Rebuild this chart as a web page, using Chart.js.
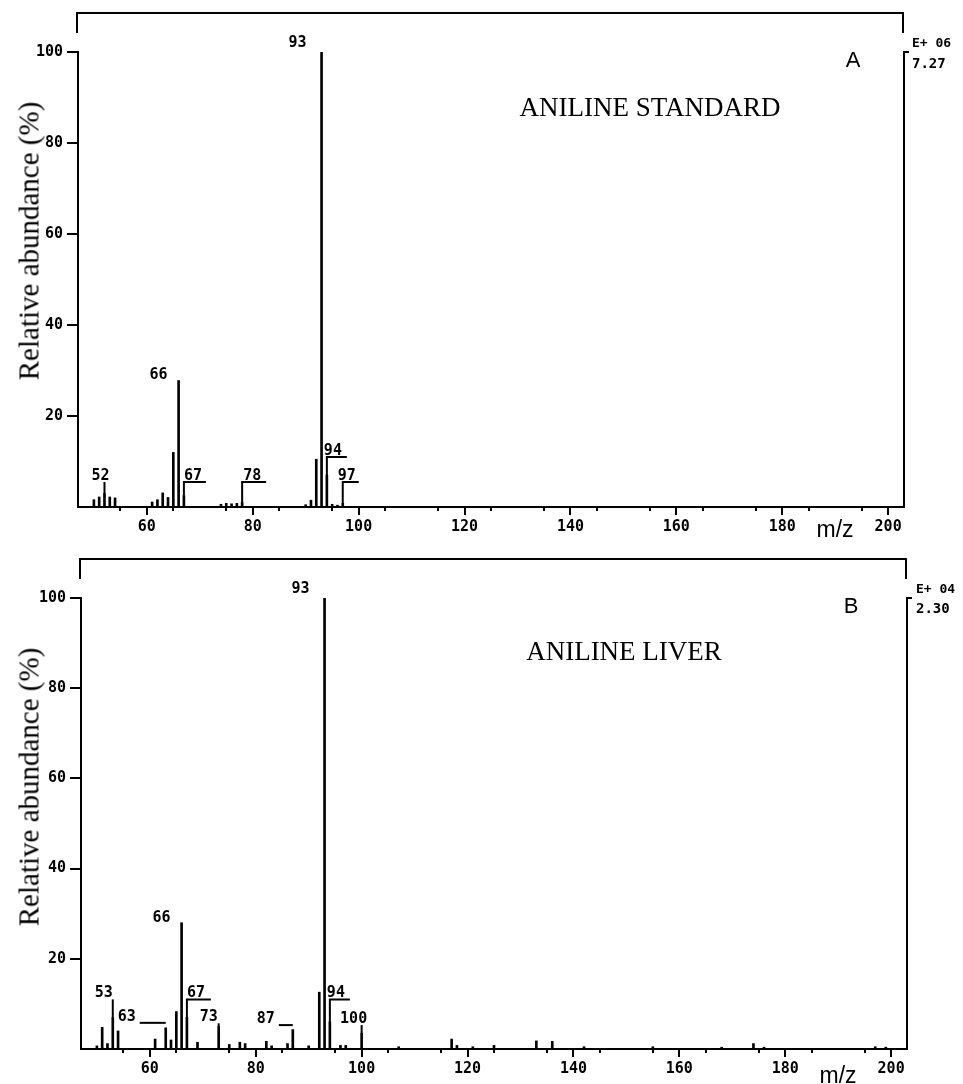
<!DOCTYPE html>
<html>
<head>
<meta charset="utf-8">
<script src="https://cdn.jsdelivr.net/npm/chart.js@4.4.0/dist/chart.umd.min.js"></script>
<style>
html,body{margin:0;padding:0;background:#fff;}
#wrap{position:relative;width:963px;height:1084px;overflow:hidden;background:#fff;}
.panel{position:absolute;left:0;width:963px;height:542px;}
.panel canvas{position:absolute;left:0;top:0;}
.t{position:absolute;white-space:nowrap;color:#000;line-height:1;}
.c{transform:translate(-50%,-50%);}
.l{transform:translate(0,-50%);}
.serif{font-family:"Liberation Serif","DejaVu Serif",serif;}
.mono{font-family:"DejaVu Sans Mono","Liberation Mono",monospace;font-weight:bold;}
.sans{font-family:"Liberation Sans",Arial,sans-serif;}
.ytitle{transform:translate(-50%,-50%) rotate(-90deg);}
</style>
</head>
<body>
<div id="wrap">
  <div class="panel" id="pA" style="top:0px">
    <canvas id="cA" width="963" height="542"></canvas>
    <div class="t serif c" style="left:650px;top:107px;font-size:27px;">ANILINE STANDARD</div>
    <div class="t sans c" style="left:853px;top:60px;font-size:22px;">A</div>
    <div class="t mono l" style="left:912px;top:42px;font-size:13px;">E+ 06</div>
    <div class="t mono l" style="left:912px;top:63px;font-size:14px;">7.27</div>
    <div class="t sans c" style="left:835px;top:529px;font-size:23px;">m/z</div>
    <div class="t serif ytitle" style="left:29px;top:241px;font-size:29px;">Relative abundance (%)</div>
  </div>
  <div class="panel" id="pB" style="top:542px">
    <canvas id="cB" width="963" height="542"></canvas>
    <div class="t serif c" style="left:624px;top:109px;font-size:27px;">ANILINE LIVER</div>
    <div class="t sans c" style="left:851px;top:64px;font-size:22px;">B</div>
    <div class="t mono l" style="left:916px;top:46px;font-size:13px;">E+ 04</div>
    <div class="t mono l" style="left:916px;top:66px;font-size:14px;">2.30</div>
    <div class="t sans c" style="left:838px;top:533px;font-size:23px;">m/z</div>
    <div class="t serif ytitle" style="left:29px;top:245px;font-size:29px;">Relative abundance (%)</div>
  </div>
</div>
<script>
// ---------- DATA ----------
const xTickLabels = [60, 80, 100, 120, 140, 160, 180, 200];
const yTickLabels = [20, 40, 60, 80, 100];

// Panel A : aniline standard
const mzA  = [50, 51, 52, 53, 54, 61, 62, 63, 64, 65, 66, 67, 74, 75, 76, 77, 78, 90, 91, 92, 93, 94, 95, 96, 97];
const intA = [1.6, 2.2, 3.0, 2.2, 2.0, 1.1, 1.6, 3.1, 2.1, 12.0, 27.8, 2.5, 0.6, 0.8, 0.7, 0.8, 1.0, 0.5, 1.5, 10.5, 100, 7.0, 0.6, 0.4, 0.8];
const labeledA = [93, 66, 52, 67, 78, 94, 97];

// Panel B : aniline liver
const mzB  = [50, 51, 52, 53, 54, 61, 63, 64, 65, 66, 67, 69, 73, 75, 77, 78, 82, 83, 86, 87, 90, 92, 93, 94, 96, 97, 100,
              107, 117, 118, 121, 125, 133, 136, 142, 155, 168, 174, 176, 197, 199];
const intB = [0.7, 4.8, 1.2, 7.0, 4.0, 2.2, 4.7, 2.0, 8.3, 28.0, 7.0, 1.5, 5.0, 1.0, 1.5, 1.2, 1.7, 0.7, 1.2, 4.3, 0.7, 12.6, 100, 6.0, 0.8, 0.8, 3.5,
              0.5, 2.2, 0.8, 0.5, 0.8, 1.8, 1.7, 0.5, 0.5, 0.4, 1.2, 0.4, 0.5, 0.4];
const labeledB = [93, 66, 53, 63, 67, 73, 87, 94, 100];

// ---------- LABEL LAYOUT (styling, keyed by m/z) ----------
// al: label above-left of peak; stem: label over a vertical leader;
// br: label on an underline bracket; ll: label left of a horizontal line
const layoutA = {
  93:{k:'al', dx:-24, dy:-9}, 66:{k:'al', dx:-20, dy:-5},
  52:{k:'stem', lv:5.5, dx:-4},
  67:{k:'br', lv:5.5, len:22, dx:0}, 78:{k:'br', lv:5.5, len:24, dx:1},
  94:{k:'br', lv:11, len:20, dx:-3}, 97:{k:'br', lv:5.5, len:16, dx:-5}
};
const layoutB = {
  93:{k:'al', dx:-24, dy:-9}, 66:{k:'al', dx:-20, dy:-5},
  53:{k:'stem', lv:11, dx:-9}, 73:{k:'stem', lv:5.7, dx:-10}, 100:{k:'stem', lv:5.3, dx:-8},
  63:{k:'ll', lv:5.8, len:26}, 87:{k:'ll', lv:5.3, len:14},
  67:{k:'br', lv:11, len:24, dx:0}, 94:{k:'br', lv:11, len:20, dx:-3}
};

const MONO = '"DejaVu Sans Mono","Liberation Mono",monospace';

const annotPlugin = {
  id: 'annot',
  afterDatasetsDraw(chart, args, o) {
    const ctx = chart.ctx, ca = chart.chartArea, x = chart.scales.x, y = chart.scales.y;
    ctx.save();
    ctx.strokeStyle = '#000'; ctx.fillStyle = '#000'; ctx.lineWidth = 2;
    // top bracket frame
    ctx.beginPath();
    ctx.moveTo(ca.left - 1, ca.top - 19);
    ctx.lineTo(ca.left - 1, ca.top - 39);
    ctx.lineTo(ca.right - 1, ca.top - 39);
    ctx.lineTo(ca.right - 1, ca.top - 19);
    ctx.stroke();
    ctx.font = 'bold 15px ' + MONO;
    o.labels.forEach(m => {
      const v = o.iv[o.mz.indexOf(m)];
      const s = o.layout[m];
      const px = x.getPixelForValue(m), top = y.getPixelForValue(v);
      if (s.k === 'al') {
        ctx.textAlign = 'center'; ctx.textBaseline = 'middle';
        ctx.fillText(String(m), px + s.dx, top + s.dy);
        return;
      }
      const ly = y.getPixelForValue(s.lv);
      ctx.beginPath();
      if (s.k === 'stem' || s.k === 'br') { ctx.moveTo(px, ly); ctx.lineTo(px, top); }
      if (s.k === 'br') { ctx.moveTo(px - 1, ly); ctx.lineTo(px + s.len, ly); }
      if (s.k === 'll') { ctx.moveTo(px - s.len, ly); ctx.lineTo(px, ly); }
      ctx.stroke();
      ctx.textBaseline = 'alphabetic';
      if (s.k === 'stem') { ctx.textAlign = 'center'; ctx.fillText(String(m), px + s.dx, ly - 2); }
      if (s.k === 'br')   { ctx.textAlign = 'left';   ctx.fillText(String(m), px + s.dx, ly - 2); }
      if (s.k === 'll')   { ctx.textAlign = 'right';  ctx.fillText(String(m), px - s.len - 4, ly - 2); }
    });
    ctx.restore();
  }
};

function makeChart(id, mz, iv, labels, layout, g) {
  const tickFont = {family: MONO, weight: 'bold', size: 15};
  return new Chart(document.getElementById(id), {
    type: 'bar',
    data: {datasets: [{
      data: mz.map((m, i) => ({x: m, y: iv[i]})),
      backgroundColor: '#000', borderWidth: 0, barThickness: 2
    }]},
    options: {
      responsive: false, animation: false, events: [],
      layout: {padding: {left: 0, top: g.top, right: 963 - g.right, bottom: 0}},
      plugins: {
        legend: {display: false}, tooltip: {enabled: false},
        annot: {mz: mz, iv: iv, labels: labels, layout: layout}
      },
      scales: {
        x: {
          type: 'linear', position: 'bottom', min: 47, max: 203, offset: false, weight: 1,
          afterFit: s => { s.height = 542 - g.bottom; },
          border: {display: true, color: '#000', width: 2},
          grid: {drawOnChartArea: false, drawTicks: true, tickLength: 8, color: '#000', lineWidth: 2, offset: false},
          ticks: {stepSize: 20, includeBounds: false, autoSkip: false, maxRotation: 0, padding: 3,
                  color: '#000', font: tickFont,
                  callback: v => xTickLabels.includes(v) ? String(v) : ''}
        },
        x2: {
          type: 'linear', position: 'bottom', min: 47, max: 203, offset: false, weight: 0,
          afterFit: s => { s.height = 0; },
          border: {display: false},
          grid: {drawOnChartArea: false, drawTicks: true, tickLength: 4, color: '#000', lineWidth: 2},
          ticks: {stepSize: 10, includeBounds: false, display: false, autoSkip: false}
        },
        y: {
          type: 'linear', position: 'left', min: 0, max: 100,
          afterFit: s => { s.width = g.left; },
          border: {display: true, color: '#000', width: 2},
          grid: {drawOnChartArea: false, drawTicks: true, tickLength: 11, lineWidth: 2,
                 color: '#000', tickColor: c => (c.tick && c.tick.value === 0) ? 'rgba(0,0,0,0)' : '#000'},
          ticks: {stepSize: 20, padding: 4, color: '#000', font: tickFont,
                  callback: v => yTickLabels.includes(v) ? String(v) : ''}
        },
        y2: {
          type: 'linear', position: 'right', min: 0, max: 100,
          afterFit: s => { s.width = 0; },
          border: {display: true, color: '#000', width: 2},
          grid: {drawOnChartArea: false, drawTicks: true, tickLength: 5, lineWidth: 2,
                 color: '#000', tickColor: c => (c.tick && c.tick.value === 100) ? '#000' : 'rgba(0,0,0,0)'},
          ticks: {stepSize: 100, display: false}
        }
      }
    },
    plugins: [annotPlugin]
  });
}

makeChart('cA', mzA, intA, labeledA, layoutA, {left: 78, right: 904, top: 52, bottom: 507});
makeChart('cB', mzB, intB, labeledB, layoutB, {left: 81, right: 907, top: 56, bottom: 507});
</script>
</body>
</html>
